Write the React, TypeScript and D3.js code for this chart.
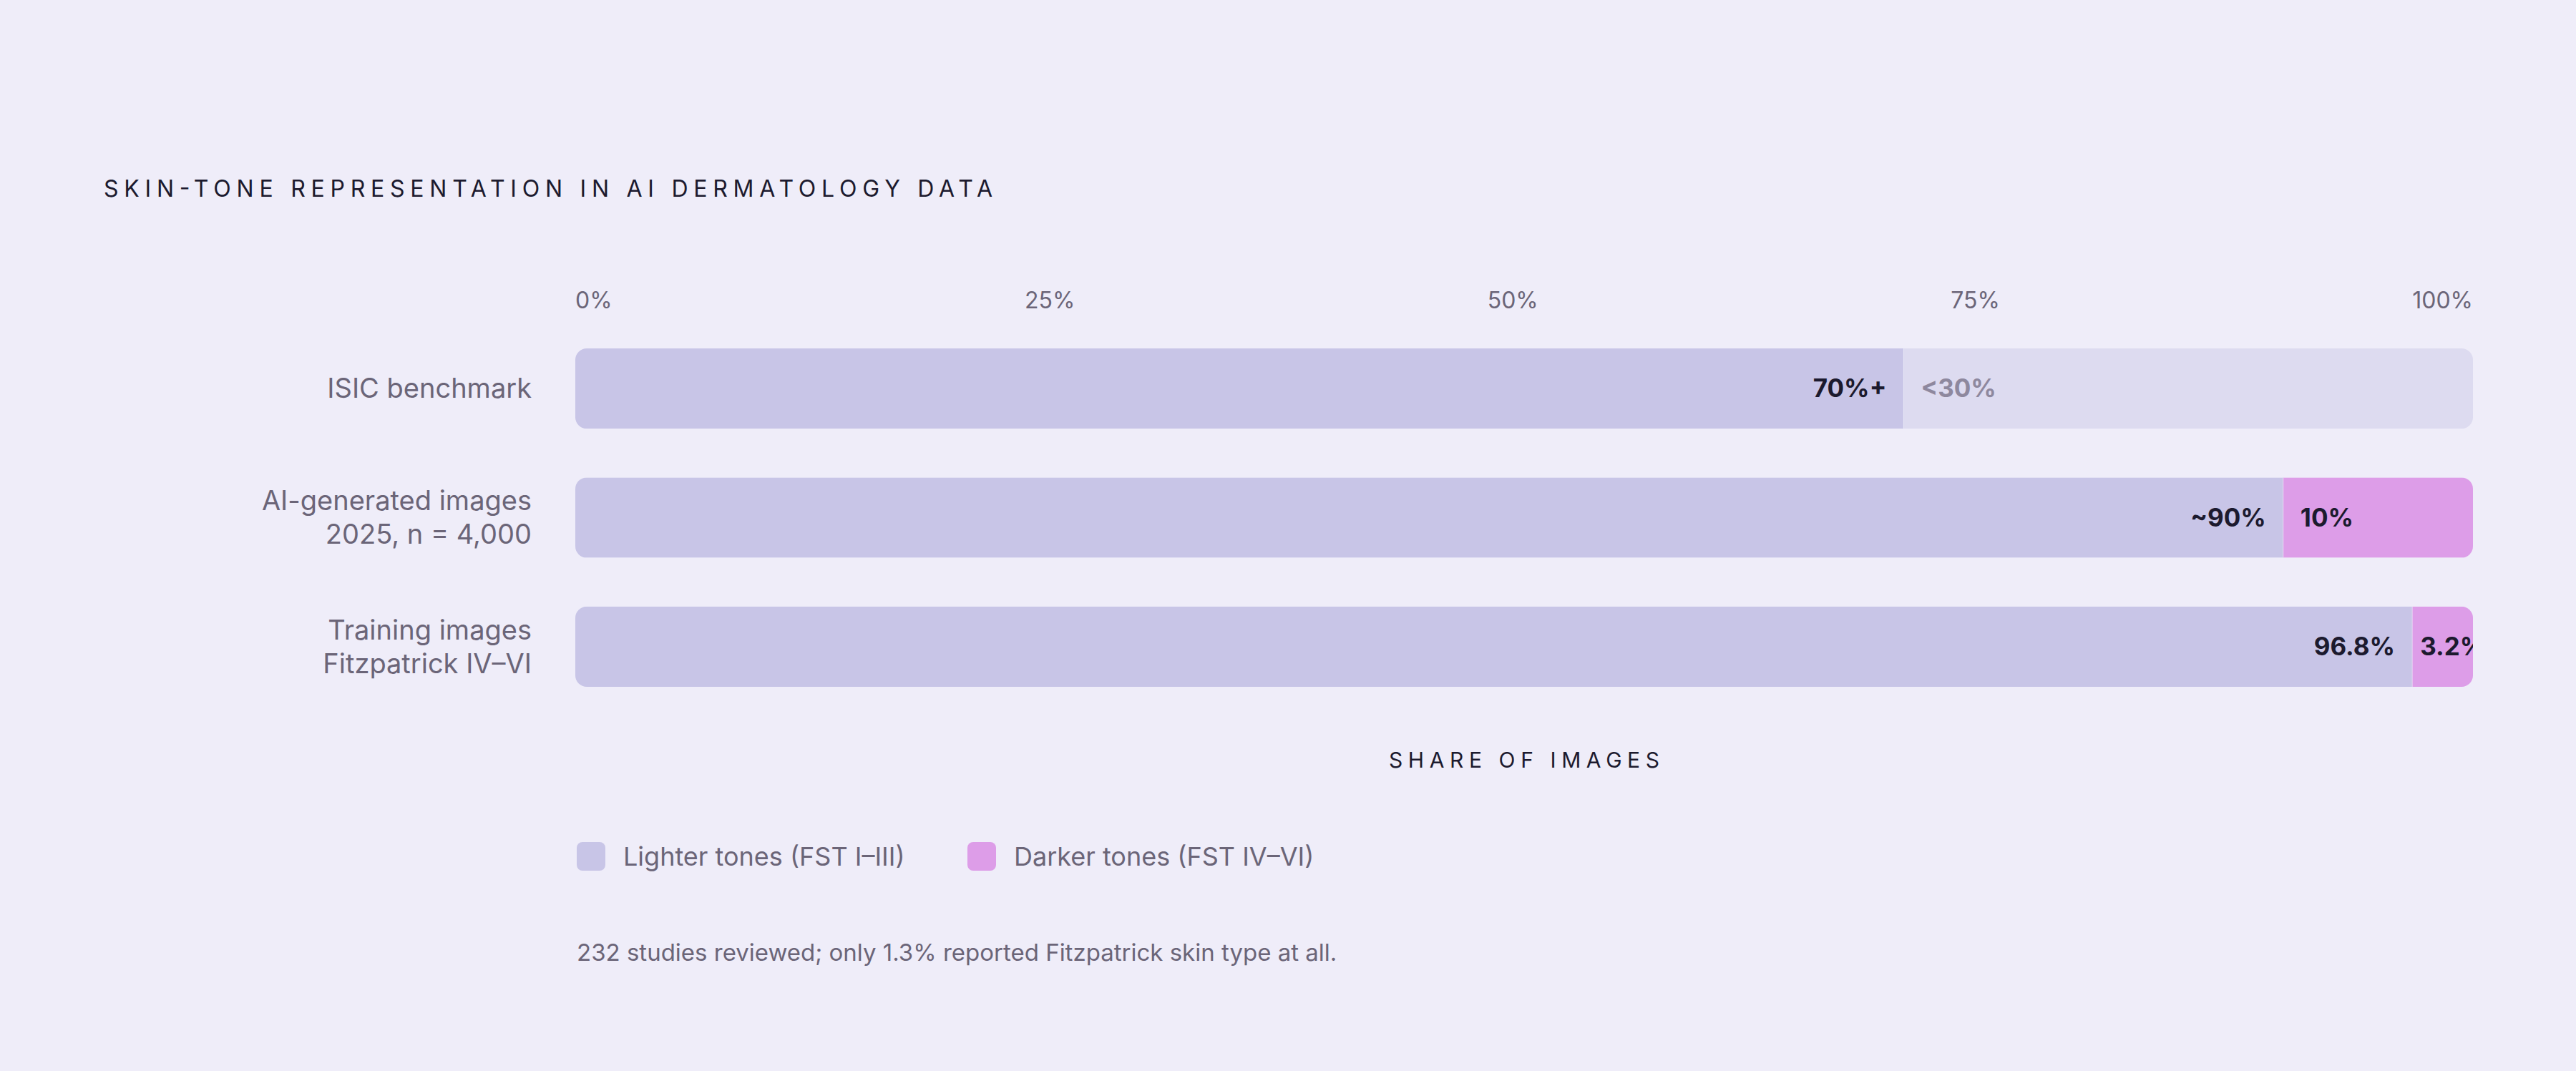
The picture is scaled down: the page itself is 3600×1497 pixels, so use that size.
import React from 'react';
import * as d3 from 'd3';

const categories = ['ISIC benchmark', 'AI-generated images', 'Training images'];
const subLines = ['', '2025, n = 4,000', 'Fitzpatrick IV–VI'];
const lighterValues = [70, 90, 96.8];
const darkerValues = [30, 10, 3.2];
const lighterLabels = ['70%+', '~90%', '96.8%'];
const darkerLabels = ['<30%', '10%', '3.2%'];
const darkerReported = [false, true, true];
const tickValues = [0, 25, 50, 75, 100];
const legendItems = ['Lighter tones (FST I–III)', 'Darker tones (FST IV–VI)'];

const W = 3600;
const H = 1497;
const FONT = 'Inter, "Noto Sans", sans-serif';
const BG = '#efedf9';
const LIGHT = '#c8c5e7';
const DARK = '#dd9de8';
const UNKNOWN = '#dddbf0';
const INK = '#1c1a2e';
const MUTED = '#6b6578';

const App: React.FC = () => {
  const tickRef = React.useRef<SVGGElement>(null);
  const x = d3.scaleLinear().domain([0, 100]).range([804, 3456]);
  const y = d3.scaleBand<string>().domain(categories).range([487, 960]).paddingInner(0.378);
  const bw = y.bandwidth();

  // tick labels are spread edge to edge with equal gaps (like flex space-between)
  React.useEffect(() => {
    const g = d3.select(tickRef.current);
    const texts = g.selectAll<SVGTextElement, number>('text');
    const widths = texts.nodes().map((n) => n.getComputedTextLength());
    const total = d3.sum(widths);
    const gap = (x(100) - x(0) - total) / (widths.length - 1);
    let cur = x(0);
    texts.each(function (_d, i) {
      d3.select(this).attr('x', cur);
      cur += widths[i] + gap;
    });
  }, []);

  return (
    <div style={{ position: 'absolute', left: 0, top: 0, width: W, height: H, background: BG }}>
      <svg width={W} height={H} style={{ display: 'block', fontFamily: FONT }}>
        <rect width={W} height={H} fill={BG} />
        <defs>
          {categories.map((c, i) => (
            <clipPath id={`row-${i}`} key={c}>
              <rect x={x(0)} y={y(c)} width={x(100) - x(0)} height={bw} rx={16} />
            </clipPath>
          ))}
        </defs>

        <text x={145} y={275} fontSize={32} fill={INK} textLength={1242} lengthAdjust="spacing">
          SKIN-TONE REPRESENTATION IN AI DERMATOLOGY DATA
        </text>

        <g ref={tickRef}>
          {tickValues.map((t) => (
            <text key={t} x={x(t)} y={431} fontSize={32} fill={MUTED}>
              {`${t}%`}
            </text>
          ))}
        </g>

        {categories.map((c, i) => {
          const y0 = y(c) as number;
          const cy = y0 + bw / 2;
          const split = x(lighterValues[i]);
          const darkW = x(lighterValues[i] + darkerValues[i]) - split;
          const pad = darkW < 150 ? 11 : 24;
          return (
            <g key={c}>
              {subLines[i] ? (
                <>
                  <text x={743} y={cy - 23.5} dy="0.35em" textAnchor="end" fontSize={38} fill={MUTED}>{c}</text>
                  <text x={743} y={cy + 23.5} dy="0.35em" textAnchor="end" fontSize={38} fill={MUTED}>{subLines[i]}</text>
                </>
              ) : (
                <text x={743} y={cy} dy="0.35em" textAnchor="end" fontSize={38} fill={MUTED}>{c}</text>
              )}
              <g clipPath={`url(#row-${i})`}>
                <rect x={x(0)} y={y0} width={split - x(0)} height={bw} fill={LIGHT} />
                <rect x={split} y={y0} width={darkW} height={bw} fill={darkerReported[i] ? DARK : UNKNOWN} />
                <line x1={split} x2={split} y1={y0} y2={y0 + bw} stroke={BG} strokeWidth={1} strokeOpacity={0.6} />
                <text x={split - 24} y={cy} dy="0.35em" textAnchor="end" fontSize={35} fontWeight={700} fill={INK}>
                  {lighterLabels[i]}
                </text>
                <text
                  x={split + pad}
                  y={cy}
                  dy="0.35em"
                  fontSize={35}
                  fontWeight={700}
                  fill={darkerReported[i] ? INK : '#8e889e'}
                >
                  {darkerLabels[i]}
                </text>
              </g>
            </g>
          );
        })}

        <text x={(x(0) + x(100)) / 2} y={1073} fontSize={30} fill={INK} textAnchor="middle" textLength={378} lengthAdjust="spacing">
          SHARE OF IMAGES
        </text>

        {legendItems.map((item, i) => {
          const lx = i === 0 ? 806 : 1352;
          return (
            <g key={item}>
              <rect x={lx} y={1177} width={40} height={40} rx={8} fill={i === 0 ? LIGHT : DARK} />
              <text x={lx + 65} y={1197} dy="0.35em" fontSize={36} fill={MUTED}>{item}</text>
            </g>
          );
        })}

        <text x={806} y={1343} fontSize={33} fill={MUTED}>
          232 studies reviewed; only 1.3% reported Fitzpatrick skin type at all.
        </text>
      </svg>
    </div>
  );
};

export default App;
